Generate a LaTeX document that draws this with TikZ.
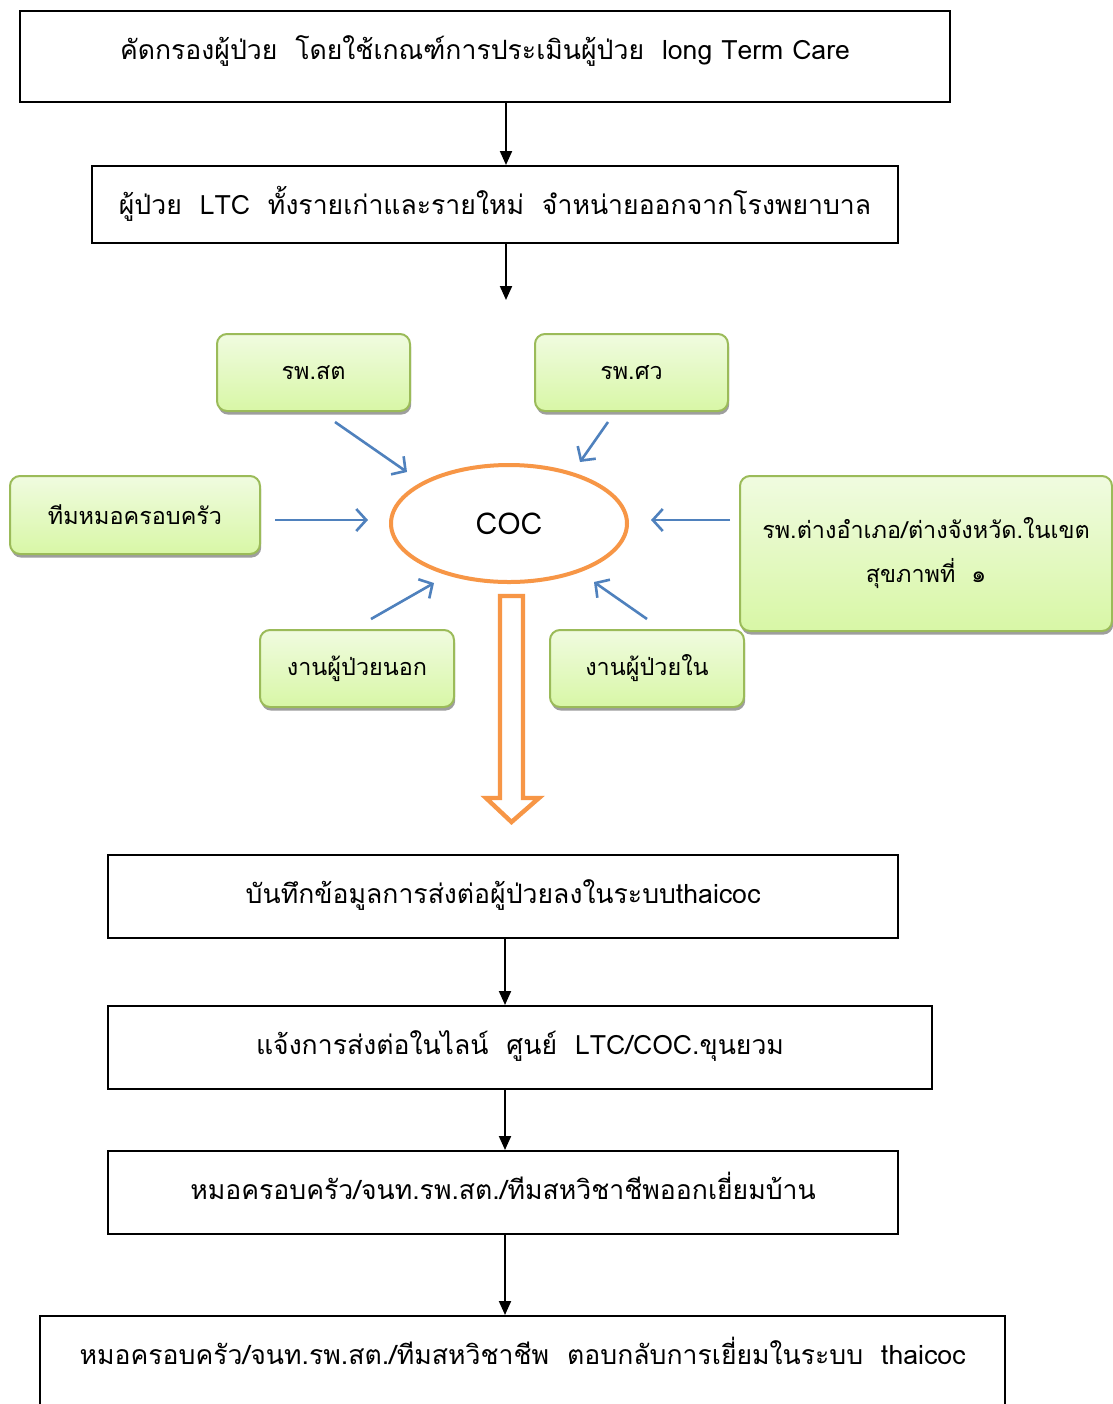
\documentclass[tikz,border=0pt]{standalone}
\usepackage{fontspec}
\setmainfont[Script=Thai]{Loma}
\usetikzlibrary{arrows.meta,shapes.geometric,shadows}
\definecolor{cocorange}{HTML}{F79646}
\definecolor{cocblue}{HTML}{4F81BD}
\definecolor{unitline}{HTML}{9BBB59}
\definecolor{unittop}{HTML}{F0FBE0}
\definecolor{unitbot}{HTML}{D8F7A6}

\begin{document}
\begin{tikzpicture}[x=0.5pt, y=-0.5pt,
    stepbox/.style={draw, line width=1pt, anchor=north, inner ysep=0pt, text height=24pt,
      font=\fontsize{13.3}{16}\selectfont},
    unitbox/.style={draw=unitline, line width=1pt, rounded corners=5pt, top color=unittop,
      bottom color=unitbot, align=center, font=\fontsize{11.7}{22}\selectfont,
      drop shadow={shadow xshift=0.6pt, shadow yshift=-1.8pt, fill=black!38, opacity=1}},
    flow/.style={-{Triangle[length=7pt,width=6pt]}, line width=1pt},
    feed/.style={cocblue, line width=1.3pt, -{Straight Barb[length=5pt,width=11pt]}}]
  \clip (0,0) rectangle (1113,1404);
  \fill [white] (0,0) rectangle (1113,1404);

  \node [stepbox, minimum width=465pt, text depth=21.5pt] (screen) at (485, 10)
    {คัดกรองผู้ป่วย~ โดยใช้เกณฑ์การประเมินผู้ป่วย~ long Term Care};
  \node [stepbox, minimum width=403pt, text depth=14.5pt] (discharge) at (495, 165)
    {ผู้ป่วย~ LTC~ ทั้งรายเก่าและรายใหม่~ จำหน่ายออกจากโรงพยาบาล};

  \node [ellipse, draw=cocorange, line width=2pt, minimum width=118pt, minimum height=58.5pt,
    font=\fontsize{15}{16}\selectfont] (coc) at (509, 523.5) {COC};
  \node [unitbox, minimum width=96.5pt, minimum height=38.5pt] (rpsat) at (313.5, 372.5) {รพ.สต};
  \node [unitbox, minimum width=96.5pt, minimum height=38.5pt] (rpsw) at (631.5, 372.5) {รพ.ศว};
  \node [unitbox, minimum width=125pt, minimum height=39pt] (famteam) at (135, 515) {ทีมหมอครอบครัว};
  \node [unitbox, minimum width=186pt, minimum height=77.5pt] (otherhosp) at (926, 553.5)
    {รพ.ต่างอำเภอ/ต่างจังหวัด.ในเขต\\สุขภาพที่~ ๑};
  \node [unitbox, minimum width=97pt, minimum height=38.5pt] (opd) at (357, 668.5) {งานผู้ป่วยนอก};
  \node [unitbox, minimum width=97pt, minimum height=38.5pt] (ipd) at (647, 668.5) {งานผู้ป่วยใน};

  \node [stepbox, minimum width=395pt, text depth=17.5pt] (record) at (503, 854)
    {บันทึกข้อมูลการส่งต่อผู้ป่วยลงในระบบthaicoc};
  \node [stepbox, minimum width=412pt, text depth=17.5pt] (notify) at (520, 1005)
    {แจ้งการส่งต่อในไลน์~ ศูนย์~ LTC/COC.ขุนยวม};
  \node [stepbox, minimum width=395pt, text depth=17.5pt] (visit) at (503, 1150)
    {หมอครอบครัว/จนท.รพ.สต./ทีมสหวิชาชีพออกเยี่ยมบ้าน};
  \node [stepbox, minimum width=482.5pt, text depth=40pt] (reply) at (522.5, 1315)
    {หมอครอบครัว/จนท.รพ.สต./ทีมสหวิชาชีพ~ ตอบกลับการเยี่ยมในระบบ~ thaicoc};

  \coordinate (intake) at (506, 300);
  \coordinate (a1) at (335, 422);  \coordinate (b1) at (407, 472);
  \coordinate (a2) at (608, 422);  \coordinate (b2) at (580, 462);
  \coordinate (a3) at (275, 520);  \coordinate (b3) at (368, 520);
  \coordinate (a4) at (730, 520);  \coordinate (b4) at (651, 520);
  \coordinate (a5) at (371, 619);  \coordinate (b5) at (434, 583);
  \coordinate (a6) at (647, 619);  \coordinate (b6) at (594, 582);

  \draw [flow] (screen.south -| intake) to (discharge.north -| intake);
  \draw [flow] (discharge.south -| intake) to (intake);
  \draw [feed] (a1) to (b1);
  \draw [feed] (a2) to (b2);
  \draw [feed] (a3) to (b3);
  \draw [feed] (a4) to (b4);
  \draw [feed] (a5) to (b5);
  \draw [feed] (a6) to (b6);
  \draw [cocorange, line width=2.2pt, fill=white, miter limit=20] (500, 596) -- (523, 596) -- (523, 798)
    -- (539, 798) -- (511.5, 822) -- (486, 798) -- (500, 798) -- cycle;
  \draw [flow] ([xshift=-2pt]record.south -| coc) to ([xshift=-2pt]notify.north -| coc);
  \draw [flow] ([xshift=-2pt]notify.south -| coc) to ([xshift=-2pt]visit.north -| coc);
  \draw [flow] ([xshift=-2pt]visit.south -| coc) to ([xshift=-2pt]reply.north -| coc);
\end{tikzpicture}
\end{document}
